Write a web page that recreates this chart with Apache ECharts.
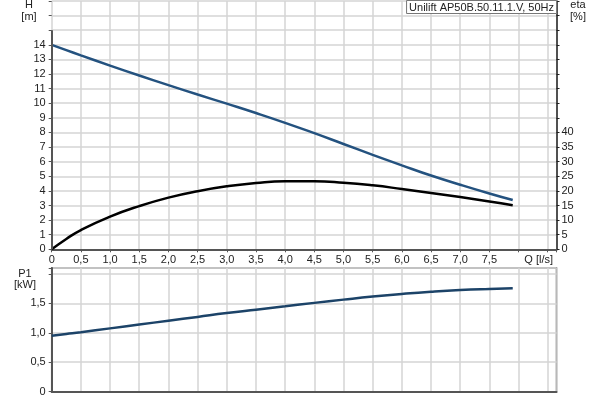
<!DOCTYPE html>
<html><head><meta charset="utf-8">
<script src="https://cdn.jsdelivr.net/npm/echarts@6/dist/echarts.min.js"></script>
<style>html,body{margin:0;padding:0;background:#fff}#c{width:600px;height:400px}</style>
</head><body><div id="c"></div>
<script>
const flow  = [0,0.25,0.5,1.0,1.5,2.0,2.5,3.0,3.5,4.0,4.5,5.0,5.5,6.0,6.5,7.0,7.5,7.9];
const head  = [14.0,13.64,13.28,12.58,11.90,11.24,10.60,9.97,9.33,8.66,7.95,7.21,6.47,5.75,5.05,4.42,3.82,3.37];
const eta   = [0,3.55,6.6,11.2,14.8,17.7,19.9,21.55,22.7,23.3,23.3,22.8,21.9,20.65,19.3,17.9,16.4,15.1];
const power = [0.95,0.98,1.01,1.075,1.14,1.205,1.27,1.335,1.393,1.45,1.508,1.563,1.615,1.66,1.698,1.727,1.745,1.755];
const titleText = 'Unilift AP50B.50.11.1.V, 50Hz';

const pairs = (ys) => flow.map((q, i) => [q, ys[i]]);
const comma = (v) => v === 0 ? '0' : v.toFixed(1).replace('.', ',');
const font = { fontFamily: 'Liberation Sans, Arial, sans-serif', fontSize: 11, color: '#222' };
const gridLine = { show: true, lineStyle: { color: '#d4d4d4', width: 1.5 } };
const axisDark = { show: true, lineStyle: { color: '#555', width: 2 } };
const txt = (text, x, y, align) => ({ type: 'text', x: x, y: y,
  style: { text: text, align: align || 'center', verticalAlign: 'middle', font: '11px Liberation Sans, Arial, sans-serif', fill: '#222' } });

const chart = echarts.init(document.getElementById('c'));
chart.setOption({
  animation: false,
  title: {
    text: titleText, right: 43, top: 0,
    padding: [2, 3, 1, 3],
    borderColor: '#777', borderWidth: 1, backgroundColor: '#fff',
    textStyle: Object.assign({}, font, { fontWeight: 'normal' })
  },
  grid: [
    { left: 51.7, right: 43.5, top: 1, height: 248.3 },
    { left: 51.7, right: 43.5, top: 268, height: 123.7, show: true, borderColor: '#666', borderWidth: 1.5 }
  ],
  xAxis: [
    { type: 'value', gridIndex: 0, min: 0, max: 8.65, interval: 0.5,
      axisLine: axisDark, axisTick: { show: true, length: 3, lineStyle: { color: '#555' } },
      splitLine: gridLine,
      axisLabel: Object.assign({}, font, { margin: 5, formatter: (v) => v >= 7.9 ? '' : comma(v) }) },
    { type: 'value', gridIndex: 1, min: 0, max: 8.65, interval: 0.5,
      axisLine: axisDark, axisTick: { show: false },
      splitLine: gridLine, axisLabel: { show: false } }
  ],
  yAxis: [
    { type: 'value', gridIndex: 0, min: 0, max: 17, interval: 1,
      axisLine: { show: false }, axisTick: { show: true, length: 3, lineStyle: { color: '#555' } },
      splitLine: gridLine,
      axisLabel: Object.assign({}, font, { margin: 6, formatter: (v) => v <= 14 ? String(v) : '' }) },
    { type: 'value', gridIndex: 0, min: 0, max: 85, interval: 5, position: 'right',
      axisLine: { show: true, lineStyle: { color: '#222', width: 1.5 } },
      axisTick: { show: true, length: 3, lineStyle: { color: '#222' } },
      splitLine: { show: false },
      axisLabel: Object.assign({}, font, { margin: 5, formatter: (v) => v <= 40 ? String(v) : '' }) },
    { type: 'value', gridIndex: 1, min: 0, max: 2.1, interval: 0.5,
      axisLine: axisDark, axisTick: { show: true, length: 3, lineStyle: { color: '#555' } },
      splitLine: gridLine,
      axisLabel: Object.assign({}, font, { margin: 6, formatter: (v) => v <= 1.5 ? comma(v) : '' }) }
  ],
  series: [
    { type: 'line', xAxisIndex: 0, yAxisIndex: 0, data: pairs(head), smooth: true, showSymbol: false,
      lineStyle: { color: '#24527f', width: 2.5 },
      markLine: { silent: true, symbol: 'none', label: { show: false },
        lineStyle: { color: '#555', width: 2, type: 'solid' },
        data: [[{ coord: [0, 0] }, { coord: [0, 15] }]] } },
    { type: 'line', xAxisIndex: 0, yAxisIndex: 1, data: pairs(eta), smooth: true, showSymbol: false,
      lineStyle: { color: '#000', width: 2.5 } },
    { type: 'line', xAxisIndex: 1, yAxisIndex: 2, data: pairs(power), smooth: true, showSymbol: false,
      lineStyle: { color: '#1c4368', width: 2.5 } }
  ],
  graphic: [
    txt('H', 29, 5), txt('[m]', 29, 17),
    txt('eta', 578, 5), txt('[%]', 578, 17),
    txt('P1', 25, 274), txt('[kW]', 25, 285),
    txt('Q [l/s]', 553, 260, 'right')
  ]
});
</script></body></html>
